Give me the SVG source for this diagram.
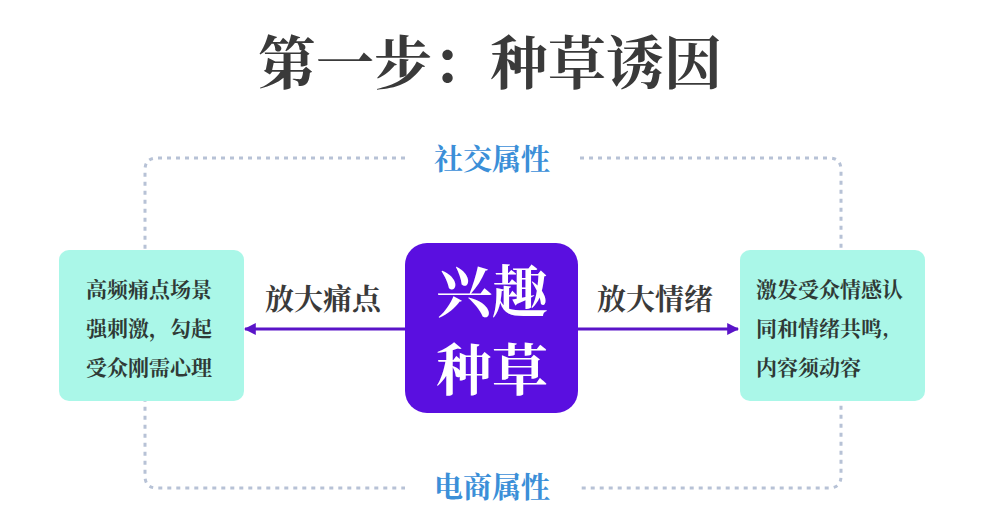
<svg xmlns="http://www.w3.org/2000/svg" width="995" height="528" viewBox="0 0 995 528">
<style>
text{font-family:"Noto Serif CJK SC","Noto Sans CJK SC",sans-serif;font-weight:bold}
.t{fill:#3a3a3a;font-size:58px;text-anchor:middle}
.b{fill:#3b8fd8;font-size:29px;text-anchor:middle}
.a{fill:#3a3a3a;font-size:29px;text-anchor:middle}
.s{fill:#2f3a36;font-size:21px}
.side{fill:#aaf7e8}
.dot{fill:none;stroke:#b7c2d6;stroke-width:3;stroke-dasharray:4 5}
.c{stroke:#5a14c8;stroke-width:3;fill:none}
</style>
<defs><marker id="ah" viewBox="0 0 10 10" refX="9" refY="5" markerWidth="4" markerHeight="4" orient="auto"><path d="M0,0L10,5L0,10z" fill="#5a14c8"/></marker></defs>
<text class="t" x="490" y="84">第一步：种草诱因</text>
<g id="frame">
<path class="dot" d="M405,158H157Q145,158 145,170V476Q145,488 157,488H405"/>
<path class="dot" d="M580,158H829Q841,158 841,170V476Q841,488 829,488H580"/>
<text class="b" x="492" y="170">社交属性</text>
<text class="b" x="492" y="498">电商属性</text>
</g>
<g id="connectors">
<line class="c" x1="405" y1="329" x2="245" y2="329" marker-end="url(#ah)"/>
<line class="c" x1="578" y1="329" x2="738" y2="329" marker-end="url(#ah)"/>
<text class="a" x="323" y="310">放大痛点</text>
<text class="a" x="655" y="310">放大情绪</text>
</g>
<g id="left">
<rect class="side" x="59" y="250" width="185" height="151" rx="10"/>
<text class="s" x="86" y="297">高频痛点场景</text>
<text class="s" x="86" y="336">强刺激，勾起</text>
<text class="s" x="86" y="375">受众刚需心理</text>
</g>
<g id="center">
<rect x="405" y="243" width="173" height="170" rx="22" fill="#5a0fe0"/>
<text x="492" y="312" fill="#fff" font-size="56" text-anchor="middle">兴趣</text>
<text x="492" y="390" fill="#fff" font-size="56" text-anchor="middle">种草</text>
</g>
<g id="right">
<rect class="side" x="740" y="250" width="185" height="151" rx="10"/>
<text class="s" x="756" y="297">激发受众情感认</text>
<text class="s" x="756" y="336">同和情绪共鸣,</text>
<text class="s" x="756" y="375">内容须动容</text>
</g>
</svg>
